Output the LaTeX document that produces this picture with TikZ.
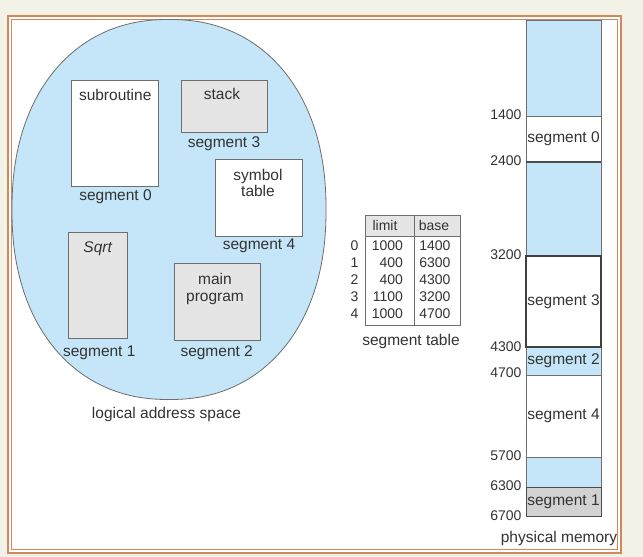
\documentclass[tikz,border=0pt]{standalone}
\usepackage{fontspec}
\setmainfont{Liberation Sans}
\usetikzlibrary{shapes.geometric}
\definecolor{lblue}{HTML}{C4E6F8}
\definecolor{boxgray}{HTML}{E5E5E5}
\definecolor{memgray}{HTML}{D2D2D2}
\definecolor{txt}{HTML}{333333}
\definecolor{edge}{HTML}{6E6E6E}
\definecolor{frameor}{HTML}{D4875A}
\definecolor{bgc}{HTML}{F3F2E6}
\begin{document}
\begin{tikzpicture}[x=1pt,y=-1pt,
  every node/.style={text=txt, inner sep=0pt, outer sep=0pt},
  lbl/.style={font=\fontsize{15.5}{17}\selectfont, text height=0.72em, text depth=0.2em},
  num/.style={font=\fontsize{14}{16}\selectfont, text height=0.72em, text depth=0.2em},
  segbox/.style={draw=edge, line width=0.8pt, rectangle},
  memblk/.style={draw=edge, line width=0.7pt, rectangle, anchor=north west, minimum width=75pt, font=\fontsize{15.5}{17}\selectfont},
  tblline/.style={draw=edge, line width=0.8pt}]
\useasboundingbox (0,0) rectangle (643,557);
\fill[bgc] (0,0) rectangle (643,557);
\fill[white] (7,15) rectangle (622,554);
\draw[frameor, line width=1.6pt] (7.8,15.8) rectangle (621.2,553.2);
\draw[frameor, line width=1pt] (11.5,19.5) rectangle (617.5,549.5);

% logical address space (superellipse)
\coordinate (las) at (169,209.5);
\draw[edge, line width=0.8pt, fill=lblue] plot[domain=1:359, samples=180, smooth]
  ({169 + 157*sign(cos(\x))*pow(abs(cos(\x)),0.909)}, {209.5 + 190*sign(sin(\x))*pow(abs(sin(\x)),0.909)}) -- cycle;

\node[segbox, fill=white, minimum width=87pt, minimum height=105.3pt] (sub) at (115.2,133.3) {};
\node[segbox, fill=boxgray, minimum width=86.7pt, minimum height=51.6pt] (stk) at (224.3,106.5) {};
\node[segbox, fill=white, minimum width=87pt, minimum height=76.7pt] (sym) at (259.2,197.7) {};
\node[segbox, fill=boxgray, minimum width=59.3pt, minimum height=106pt] (sqr) at (97.7,285.7) {};
\node[segbox, fill=boxgray, minimum width=86.7pt, minimum height=76.7pt] (mp) at (217.3,301.7) {};

\node[lbl] (subt) at (115.2,97.7) {subroutine};
\node[lbl] (stkt) at (222,97.3) {stack};
\node[lbl] (symt1) at (258,177.7) {symbol};
\node[lbl] (symt2) at (258,194.3) {table};
\node[lbl] (sqrt) at (97.7,250) {\itshape Sqrt};
\node[lbl] (mpt1) at (215,281.7) {main};
\node[lbl] (mpt2) at (215,299) {program};

\node[lbl] (ls0) at (115.5,197.7) {segment 0};
\node[lbl] (ls3) at (224,145) {segment 3};
\node[lbl] (ls4) at (259,246.7) {segment 4};
\node[lbl] (ls1) at (99.3,354) {segment 1};
\node[lbl] (ls2) at (216.7,354) {segment 2};
\node[lbl] (lastxt) at (166.5,415.7) {logical address space};

% segment table
\fill[boxgray] (365,215) rectangle (460.7,236.5);
\draw[tblline] (365,215) rectangle (460.7,325);
\draw[tblline] (365,236.5) -- (460.7,236.5);
\draw[tblline] (414.7,215) -- (414.7,325);
\node[num] (hl) at (385,228) {limit};
\node[num] (hb) at (434,228) {base};
\foreach \i/\l/\b in {0/1000/1400,1/400/6300,2/400/4300,3/1100/3200,4/1000/4700}{
  \node[num] (r\i) at (354.5,247.5+17.1*\i) {\i};
  \node[num, anchor=east] (l\i) at (403,247.5+17.1*\i) {\l};
  \node[num, anchor=east] (b\i) at (450.5,247.5+17.1*\i) {\b};
}
\node[lbl] (sttxt) at (411,343) {segment table};

% physical memory
\node[memblk, fill=lblue, minimum height=96pt] (m1) at (526,20) {};
\node[memblk, fill=white, minimum height=46pt] (m2) at (526,116) {segment 0};
\node[memblk, fill=lblue, minimum height=94pt] (m3) at (526,162) {};
\node[memblk, fill=lblue, minimum height=28pt] (m5) at (526,347) {segment 2};
\node[memblk, fill=white, minimum height=82pt] (m6) at (526,375) {segment 4};
\node[memblk, fill=lblue, minimum height=30pt] (m7) at (526,457) {};
\node[memblk, fill=memgray, draw=black!70, line width=1pt, minimum height=29pt] (m8) at (526,487) {segment 1};
\node[memblk, fill=white, draw=black!75, line width=1.3pt, minimum height=91pt] (m4) at (526,256) {segment 3};
\draw[black!70, line width=1.3pt] (m3.north west) -- (m3.north east);

\foreach \v/\yy in {1400/117,2400/163,3200/257,4300/349,4700/375,5700/458,6300/488,6700/518}{
  \node[num, anchor=east] (a\v) at (521.5,\yy) {\v};
}
\node[lbl] (pmtxt) at (559,540) {physical memory};
\end{tikzpicture}
\end{document}
